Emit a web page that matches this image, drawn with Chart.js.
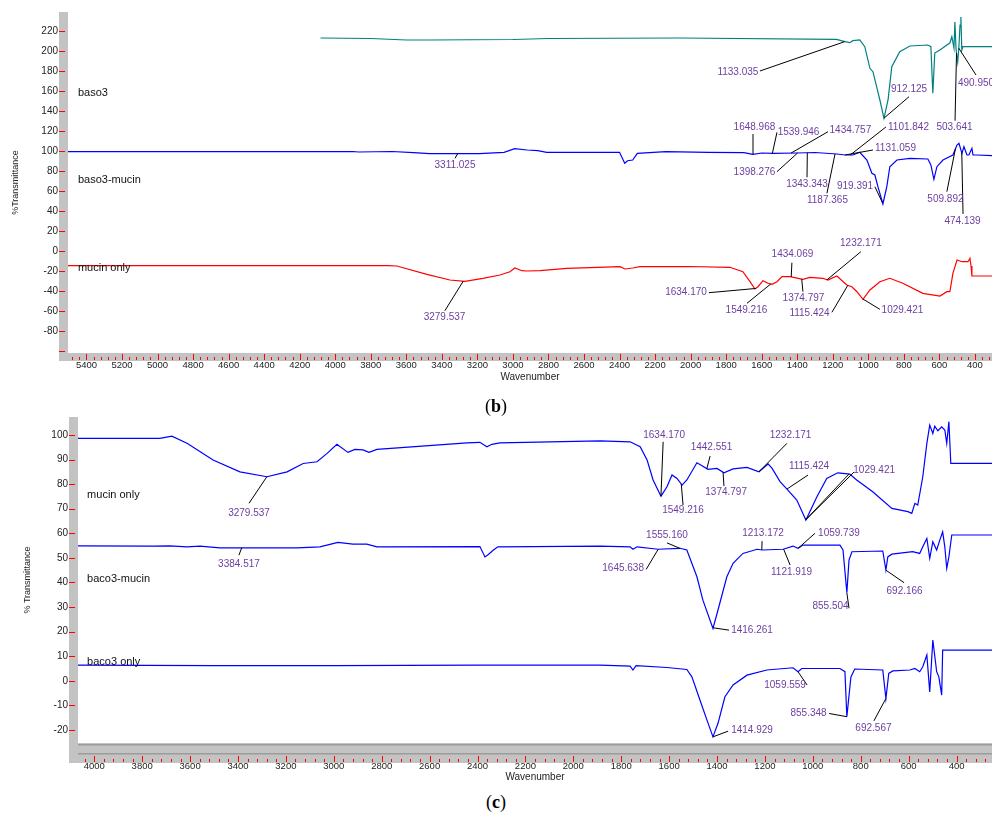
<!DOCTYPE html>
<html>
<head>
<meta charset="utf-8">
<script src="https://cdn.jsdelivr.net/npm/chart.js@4.4.1/dist/chart.umd.min.js"></script>
<style>
  html, body { margin: 0; padding: 0; background: #fff; }
  body { width: 992px; height: 816px; position: relative; overflow: hidden; }
  .panel { position: absolute; left: 0; width: 992px; }
  #wrapB { top: 0; height: 390px; }
  #wrapC { top: 405px; height: 380px; }
  .cap { position: absolute; left: 0; width: 992px; text-align: center;
         font-family: 'Liberation Serif', 'DejaVu Serif', serif; font-size: 18px; color: #000; }
</style>
</head>
<body>
<div class="panel" id="wrapB"><canvas id="chartB"></canvas></div>
<div class="panel" id="wrapC"><canvas id="chartC"></canvas></div>
<div class="cap" style="top:396px">(<b>b</b>)</div>
<div class="cap" style="top:792px">(<b>c</b>)</div>
<script>
// ---------- panel (b) data : wavenumber (cm-1) / %T ----------
const xTicksB = [5400, 5200, 5000, 4800, 4600, 4400, 4200, 4000, 3800, 3600, 3400, 3200, 3000,
                 2800, 2600, 2400, 2200, 2000, 1800, 1600, 1400, 1200, 1000, 800, 600, 400];
const yTicksB = [-100, -80, -60, -40, -20, 0, 20, 40, 60, 80, 100, 120, 140, 160, 180, 200, 220];

// baso3
const basoWn = [4083, 3800, 3600, 3470, 3000, 2800, 2060, 1179, 1132, 1104, 1087, 1048, 1020, 991, 974,
                935, 912, 889, 868, 823, 766, 665, 648, 637, 626, 597, 558, 541, 530, 518, 513, 506,
                497, 490, 484, 479, 474, 468, 300];
const basoT = [213, 212.5, 211, 211, 211.5, 212.5, 213, 211.7, 209.3, 208.3, 210.3, 211, 204.3, 182.7, 179.3,
               151, 132.7, 151, 184.3, 199.3, 205, 206, 204.3, 157.7, 198, 201, 206, 208, 214.3, 203, 229, 201,
               189, 205, 226, 234, 201, 204.3, 204.3];

// baso3-mucin
const basoMucWn = [5510, 4200, 3900, 3870, 3680, 3560, 3469, 3190, 3050, 2990, 2920, 2860, 2810, 2400, 2371,
                   2355, 2326, 2300, 2140, 1900, 1700, 1650, 1600, 1537, 1402, 1300, 1177, 1131, 1100, 1087,
                   1048, 1008, 980, 963, 946, 918, 896, 879, 839, 766, 665, 648, 631, 614, 580, 524, 501,
                   490, 473, 462, 445, 434, 417, 411, 389, 300];
const basoMucT = [99.3, 99.3, 99.5, 99, 99.5, 98.3, 97.3, 97.3, 98.7, 102.3, 101, 100.3, 98.7, 98.7, 87.7,
                  90.3, 91, 97.7, 99.3, 98.7, 98.3, 96.7, 98, 97.7, 98, 98.5, 97, 96, 96, 96,
                  98.7, 91, 77.7, 76, 64.3, 47, 64.3, 84.3, 91, 92.7, 92, 86, 71.7, 84.3, 91, 96, 106,
                  107.7, 97.7, 104.3, 96, 96, 102.7, 96, 96, 95.4];

// mucin only (b)
const mucBWn = [5510, 3703, 3653, 3484, 3355, 3270, 3169, 3073, 3017, 2989, 2949, 2921, 2848, 2696, 2398,
                2370, 2325, 2285, 2004, 1779, 1706, 1666, 1638, 1621, 1593, 1565, 1542, 1514, 1486, 1441,
                1368, 1329, 1256, 1228, 1177, 1121, 1093, 1064, 1030, 991, 935, 879, 806, 693, 597,
                558, 541, 524, 501, 473, 439, 428, 422, 417, 300];
const mucBT = [-14.7, -14.7, -15, -23.3, -29, -30.3, -27.3, -24, -20.7, -17, -19.7, -20, -19.7, -17.3, -15.7,
               -18, -17, -15.7, -15.5, -16.3, -20.7, -30.7, -38, -35.7, -29.7, -32.3, -33.3, -30.7, -25.7, -25.7,
               -28.3, -26.3, -27.3, -29, -25, -34, -35.7, -40.7, -48.3, -39, -30.7, -27.3, -32.3, -42.3, -45,
               -40.7, -40.7, -22.3, -9, -10.7, -10.7, -7.3, -15, -25, -25];

const namesB = [
  { t: 'baso3', x: 5448, y: 158 },
  { t: 'baso3-mucin', x: 5448, y: 71 },
  { t: 'mucin only', x: 5448, y: -17 }
];
// peak labels: s = series, tx/ty = label centre, lx/ly = start of leader, e = end wavenumber
const peaksB = [
  { t: '1133.035', s: 0, tx: 1734, ty: 179, lx: 1610, ly: 180 },
  { t: '912.125', s: 0, tx: 771, ty: 162, lx: 771, ly: 154.3 },
  { t: '490.950', s: 0, tx: 394, ty: 168, lx: 394, ly: 176 },
  { t: '503.641', s: 0, tx: 515, ty: 123.3, lx: 512, ly: 130.3 },
  { t: '1648.968', s: 1, tx: 1641, ty: 124, lx: 1649, ly: 117 },
  { t: '1539.946', s: 1, tx: 1393, ty: 119, lx: 1514, ly: 118.7 },
  { t: '1434.757', s: 1, tx: 1101, ty: 120.3, lx: 1227, ly: 119.3 },
  { t: '1101.842', s: 1, tx: 774, ty: 124, lx: 901, ly: 124 },
  { t: '1131.059', s: 1, tx: 847, ty: 102.3, lx: 974, ly: 101 },
  { t: '1398.276', s: 1, tx: 1641, ty: 78.7, lx: 1514, ly: 79.3 },
  { t: '1343.343', s: 1, tx: 1345, ty: 66.7, lx: 1345, ly: 73.7 },
  { t: '1187.365', s: 1, tx: 1230, ty: 51, lx: 1233, ly: 57.7 },
  { t: '919.391', s: 1, tx: 1075, ty: 65, lx: 963, ly: 64.3 },
  { t: '509.892', s: 1, tx: 566, ty: 51.7, lx: 558, ly: 59.3 },
  { t: '474.139', s: 1, tx: 470, ty: 29.7, lx: 467, ly: 37 },
  { t: '3311.025', s: 1, tx: 3326, ty: 85.3, lx: 3326, ly: 92.7 },
  { t: '1434.069', s: 2, tx: 1427, ty: -3.7, lx: 1430, ly: -11.7 },
  { t: '1232.171', s: 2, tx: 1042, ty: 7.3, lx: 1042, ly: -0.7 },
  { t: '1634.170', s: 2, tx: 2026, ty: -41, lx: 1897, ly: -41.7 },
  { t: '1549.216', s: 2, tx: 1686, ty: -59, lx: 1683, ly: -52.3 },
  { t: '1374.797', s: 2, tx: 1365, ty: -47.3, lx: 1368, ly: -40.7 },
  { t: '1115.424', s: 2, tx: 1331, ty: -62.3, lx: 1205, ly: -61.3 },
  { t: '1029.421', s: 2, tx: 808, ty: -59, lx: 935, ly: -58.3 },
  { t: '3279.537', s: 2, tx: 3385, ty: -66.3, lx: 3383, ly: -59.7 }
];

// ---------- panel (c) data ----------
const xTicksC = [4000, 3800, 3600, 3400, 3200, 3000, 2800, 2600, 2400, 2200, 2000, 1800, 1600,
                 1400, 1200, 1000, 800, 600, 400];
const yTicksC = [-20, -10, 0, 10, 20, 30, 40, 50, 60, 70, 80, 90, 100];

// mucin only (c)
const mucCWn = [4070, 3726, 3676, 3613, 3504, 3392, 3279, 3195, 3128, 3070, 3028, 2987, 2941, 2912, 2878,
                2853, 2820, 2444, 2390, 2361, 2340, 2307, 1888, 1763, 1721, 1692, 1667, 1634, 1609, 1588,
                1567, 1546, 1526, 1484, 1459, 1438, 1400, 1371, 1333, 1275, 1225, 1187, 1170, 1137, 1108,
                1067, 1029, 983, 942, 896, 846, 817, 750, 670, 603, 587, 574, 562, 541, 524,
                512, 499, 491, 478, 462, 449, 441, 432, 424, 250];
const mucCT = [98.6, 98.6, 99.5, 96.6, 89.8, 85, 83, 85, 88.4, 89.1, 92.5, 96.2, 92.9, 94.1, 93.9,
               92.9, 94.1, 96.8, 97, 95.2, 96.2, 96.8, 97.6, 97.2, 95.2, 89.8, 81.7, 75.1, 78.9, 83.7,
               82.3, 79.6, 81.7, 88.7, 87.3, 86, 86.4, 84.6, 86.2, 86.8, 85, 88.2, 86.4, 81, 78,
               73.5, 65.4, 74.9, 82.3, 84.6, 84.1, 81.7, 76.9, 70.1, 68.8, 68.1, 72.2, 71.5, 83, 96.6,
               104, 100.6, 103.6, 101.7, 103.3, 102, 96.6, 105.4, 88.4, 88.4];

// baco3-mucin
const bacoMucWn = [4070, 3755, 3684, 3613, 3559, 3475, 3154, 3058, 2983, 2920, 2862, 2820, 2390, 2369, 2356,
                   2336, 2315, 1888, 1763, 1751, 1734, 1646, 1555, 1526, 1484, 1459, 1417, 1396, 1359, 1333,
                   1292, 1233, 1212, 1124, 1083, 1062, 1041, 887, 874, 858, 849, 837, 708, 695, 687,
                   670, 583, 554, 541, 524, 512, 499, 483, 470, 458, 449, 441, 432, 420, 250];
const bacoMucT = [54.9, 54.8, 54.9, 54.5, 54.8, 54.1, 54.1, 54.5, 56.3, 55.6, 55.6, 54.5, 54.6, 50.4, 51.3,
                  53, 54.5, 54.8, 54.5, 53.5, 54.5, 53.5, 53.9, 53.2, 42.3, 32.8, 21.3, 28.8, 42.3, 47.8,
                  51.8, 53.5, 53.2, 53.5, 54.8, 53.9, 55.2, 55.2, 53.2, 35.8, 49.1, 52.5, 52.8, 45, 50.4,
                  51.5, 52.5, 51.8, 54.5, 57.9, 49.8, 56.6, 53.2, 57.2, 60.6, 54.5, 45.7, 50.4, 59.3, 59.3];

// baco3 only
const bacoWn = [4070, 3500, 3000, 2400, 1888, 1763, 1751, 1738, 1609, 1526, 1505, 1471, 1442, 1417, 1396,
                1367, 1333, 1275, 1192, 1083, 1062, 1046, 887, 866, 858, 841, 825, 708, 695, 683,
                666, 595, 574, 554, 541, 524, 512, 499, 483, 474, 462, 458, 250];
const bacoT = [6.4, 6.2, 6.2, 6.4, 6.4, 6, 4.4, 6.2, 5.4, 4.6, 1.6, -7.9, -16, -22.8, -17.3,
               -6.5, -1.7, 2.3, 4.4, 5.3, 3.7, 5, 5, 3.7, -14.6, 1.6, 4.8, 4.4, -7.2, 3,
               4, 4.4, 5, 3.7, 5.7, 10.5, -4.5, 16.6, 3.7, 1.6, -5.8, 12.5, 12.5];

const namesC = [
  { t: 'mucin only', x: 4030, y: 75.5 },
  { t: 'baco3-mucin', x: 4030, y: 41.4 },
  { t: 'baco3 only', x: 4030, y: 7.6 }
];
const peaksC = [
  { t: '1634.170', s: 0, tx: 1621, ty: 99.7, lx: 1625, ly: 97.2 },
  { t: '1549.216', s: 0, tx: 1542, ty: 69.4, lx: 1542, ly: 71.5 },
  { t: '1442.551', s: 0, tx: 1423, ty: 94.8, lx: 1429, ly: 91.4 },
  { t: '1374.797', s: 0, tx: 1362, ty: 76.5, lx: 1371, ly: 79.2 },
  { t: '1232.171', s: 0, tx: 1093, ty: 99.7, lx: 1108, ly: 96.6, e: 1225 },
  { t: '1115.424', s: 0, tx: 1016, ty: 87.1, lx: 1020, ly: 83.7, e: 1108 },
  { t: '1029.421', s: 0, tx: 744, ty: 85.7, lx: 849, ly: 84.1, l2: [828, 84.9] },
  { t: '3279.537', s: 0, tx: 3354, ty: 68.3, lx: 3354, ly: 72.2 },
  { t: '1555.160', s: 1, tx: 1609, ty: 59.3, lx: 1609, ly: 56.1 },
  { t: '1645.638', s: 1, tx: 1792, ty: 45.7, lx: 1696, ly: 45.3 },
  { t: '1416.261', s: 1, tx: 1254, ty: 20.6, lx: 1350, ly: 20.6 },
  { t: '1213.172', s: 1, tx: 1208, ty: 60.2, lx: 1212, ly: 56.8 },
  { t: '1121.919', s: 1, tx: 1089, ty: 44.1, lx: 1095, ly: 47.1 },
  { t: '1059.739', s: 1, tx: 891, ty: 60.2, lx: 991, ly: 60 },
  { t: '855.504', s: 1, tx: 926, ty: 30.4, lx: 849, ly: 29.5, e: 858 },
  { t: '692.166', s: 1, tx: 617, ty: 36.5, lx: 619, ly: 39.9, e: 695 },
  { t: '3384.517', s: 1, tx: 3396, ty: 47.5, lx: 3396, ly: 51.1 },
  { t: '1414.929', s: 2, tx: 1254, ty: -20.3, lx: 1354, ly: -20.5, e: 1417 },
  { t: '1059.559', s: 2, tx: 1116, ty: -1.7, lx: 1024, ly: -1.7, e: 1062 },
  { t: '855.348', s: 2, tx: 1018, ty: -13, lx: 932, ly: -13.3, e: 858 },
  { t: '692.567', s: 2, tx: 747, ty: -19.4, lx: 745, ly: -16.3, e: 695 }
];

const FONT = "'Liberation Sans', Arial, sans-serif";
const PURPLE = '#6B3FA0';

function toPoints(wn, t) {
  return wn.map((w, i) => ({ x: w, y: t[i] }));
}

// linear lookup on a series (wavenumbers descending)
function valueAt(data, wn) {
  for (let i = 0; i < data.length - 1; i++) {
    const a = data[i], b = data[i + 1];
    if (wn <= a.x && wn >= b.x) {
      const f = (a.x - wn) / (a.x - b.x);
      return a.y + f * (b.y - a.y);
    }
  }
  return data[data.length - 1].y;
}

// grey axis strips and red tick marks, like the instrument software
const framePlugin = {
  id: 'frame',
  beforeDraw(chart, args, o) {
    const { ctx, chartArea: a } = chart;
    ctx.save();
    ctx.fillStyle = '#c3c3c3';
    ctx.fillRect(a.left - o.stripW, a.top, o.stripW, a.bottom - a.top + o.bandH);
    ctx.fillRect(a.left, a.bottom, a.right - a.left, o.bandH);
    if (o.bandLines) {
      ctx.fillStyle = '#9c9c9c';
      ctx.fillRect(a.left, a.bottom + 1, a.right - a.left, 1.5);
      ctx.fillRect(a.left, a.bottom + 10, a.right - a.left, 1.5);
    }
    ctx.restore();
  },
  afterDraw(chart, args, o) {
    const { ctx, chartArea: a, scales: { x, y } } = chart;
    ctx.save();
    ctx.strokeStyle = '#ff0000';
    ctx.lineWidth = 1;
    ctx.beginPath();
    const y1 = a.bottom + o.bandH - 1;
    for (let v = Math.ceil(x.min / 40) * 40; v <= x.max; v += 40) {
      const px = Math.round(x.getPixelForValue(v)) + 0.5;
      const len = v % 200 === 0 ? o.majorLen : o.minorLen;
      ctx.moveTo(px, y1 - len);
      ctx.lineTo(px, y1);
    }
    y.ticks.forEach(t => {
      const py = Math.round(y.getPixelForValue(t.value)) + 0.5;
      ctx.moveTo(a.left - o.stripW, py);
      ctx.lineTo(a.left - o.stripW + 6, py);
    });
    ctx.stroke();
    ctx.restore();
  }
};

// series names and peak labels with leader lines
const peakPlugin = {
  id: 'peaks',
  afterDatasetsDraw(chart, args, o) {
    const { ctx, scales: { x, y } } = chart;
    ctx.save();
    ctx.strokeStyle = '#000';
    ctx.lineWidth = 1;
    ctx.beginPath();
    o.peaks.forEach(p => {
      const data = chart.data.datasets[p.s].data;
      const ew = p.e !== undefined ? p.e : parseFloat(p.t);
      const ex = x.getPixelForValue(ew), ey = y.getPixelForValue(valueAt(data, ew));
      ctx.moveTo(x.getPixelForValue(p.lx), y.getPixelForValue(p.ly));
      ctx.lineTo(ex, ey);
      if (p.l2) {
        ctx.moveTo(x.getPixelForValue(p.l2[0]), y.getPixelForValue(p.l2[1]));
        ctx.lineTo(ex, ey);
      }
    });
    ctx.stroke();

    ctx.font = '10px ' + FONT;
    ctx.fillStyle = PURPLE;
    ctx.textAlign = 'center';
    ctx.textBaseline = 'middle';
    o.peaks.forEach(p => {
      ctx.fillText(p.t, x.getPixelForValue(p.tx), y.getPixelForValue(p.ty));
    });

    ctx.font = '11px ' + FONT;
    ctx.fillStyle = '#111';
    ctx.textAlign = 'left';
    o.names.forEach(n => {
      ctx.fillText(n.t, x.getPixelForValue(n.x), y.getPixelForValue(n.y));
    });
    ctx.restore();
  }
};

function buildChart(id, p) {
  return new Chart(document.getElementById(id), {
    type: 'line',
    data: {
      datasets: p.series.map(s => ({
        data: toPoints(s.wn, s.t),
        borderColor: s.color,
        borderWidth: 1.2,
        pointRadius: 0,
        tension: 0,
        fill: false
      }))
    },
    options: {
      responsive: true,
      maintainAspectRatio: false,
      animation: false,
      events: [],
      layout: { padding: { top: p.padTop, left: 0, right: 0, bottom: 0 } },
      plugins: {
        legend: { display: false },
        tooltip: { enabled: false },
        frame: { stripW: p.stripW, bandH: p.bandH, majorLen: 6, minorLen: 3, bandLines: p.bandLines },
        peaks: { peaks: p.peaks, names: p.names }
      },
      scales: {
        x: {
          type: 'linear',
          reverse: true,
          min: p.xMin,
          max: p.xMax,
          afterFit: s => {
            s.height = p.xAxisH;
            s.paddingLeft = 0; s.paddingRight = 0;
          },
          afterBuildTicks: s => { s.ticks = p.xTicks.map(v => ({ value: v })); },
          grid: { display: false, drawTicks: false },
          border: { display: false },
          ticks: {
            autoSkip: false, maxRotation: 0, padding: p.xTickPad, color: '#222',
            font: { family: FONT, size: 9.5 },
            callback: v => String(v)
          },
          title: {
            display: true, text: 'Wavenumber', color: '#222',
            font: { family: FONT, size: 10 }, padding: { top: 0, bottom: p.xTitlePad }
          }
        },
        y: {
          type: 'linear',
          min: p.yMin,
          max: p.yMax,
          afterFit: s => {
            s.width = p.yAxisW;
            s.paddingTop = 0; s.paddingBottom = 0;
          },
          afterBuildTicks: s => { s.ticks = p.yTicks.map(v => ({ value: v })); },
          grid: { display: false, drawTicks: false },
          border: { display: false },
          ticks: {
            padding: 10, color: '#222', font: { family: FONT, size: 10 },
            callback: v => (p.yHidden.includes(v) ? '' : String(v))
          },
          title: {
            display: true, text: p.yTitle, color: '#222',
            font: { family: FONT, size: 9 }, padding: { top: p.yTitlePad, bottom: 0 }
          }
        }
      }
    },
    plugins: [framePlugin, peakPlugin]
  });
}

buildChart('chartB', {
  series: [
    { wn: basoWn, t: basoT, color: '#008080' },
    { wn: basoMucWn, t: basoMucT, color: '#0000ff' },
    { wn: mucBWn, t: mucBT, color: '#ff0000' }
  ],
  peaks: peaksB, names: namesB,
  xMin: 304, xMax: 5504, xTicks: xTicksB,
  yMin: -102, yMax: 239, yTicks: yTicksB, yHidden: [-100],
  yTitle: '%Transmittance',
  padTop: 12, yAxisW: 68, xAxisH: 37, stripW: 9, bandH: 8, bandLines: false,
  xTickPad: 7, xTitlePad: 7, yTitlePad: 10
});

buildChart('chartC', {
  series: [
    { wn: mucCWn, t: mucCT, color: '#0000ff' },
    { wn: bacoMucWn, t: bacoMucT, color: '#0000ff' },
    { wn: bacoWn, t: bacoT, color: '#0000ff' }
  ],
  peaks: peaksC, names: namesC,
  xMin: 252, xMax: 4068, xTicks: xTicksC,
  yMin: -25.3, yMax: 107.3, yTicks: yTicksC, yHidden: [],
  yTitle: '% Transmittance',
  padTop: 12, yAxisW: 78, xAxisH: 42, stripW: 9, bandH: 20, bandLines: true,
  xTickPad: 18, xTitlePad: 2, yTitlePad: 22
});
</script>
</body>
</html>
